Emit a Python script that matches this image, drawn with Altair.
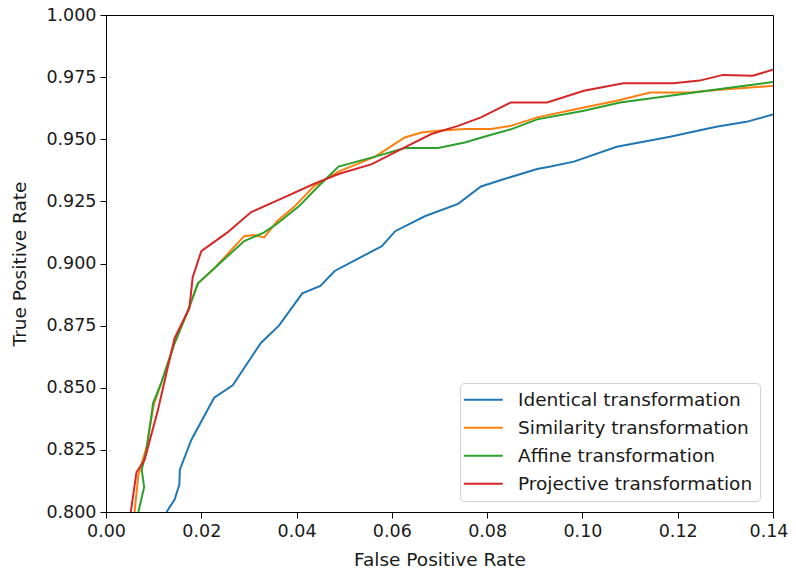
import altair as alt
import pandas as pd

series_names = ["Identical transformation", "Similarity transformation",
                "Affine transformation", "Projective transformation"]
series_colors = ["#1f77b4", "#ff7f0e", "#2ca02c", "#d62728"]

identical_fpr = [0.0127, 0.0144, 0.0154, 0.0155, 0.0179, 0.0227, 0.0266, 0.0325, 0.0363, 0.0412,
                 0.0450, 0.0480, 0.0579, 0.0607, 0.0669, 0.0739, 0.0787, 0.0836, 0.0905, 0.0933,
                 0.0982, 0.1072, 0.1128, 0.1184, 0.1232, 0.1281, 0.1344, 0.1400]
identical_tpr = [0.800, 0.805, 0.811, 0.817, 0.829, 0.846, 0.851, 0.868, 0.875, 0.888,
                 0.891, 0.897, 0.907, 0.913, 0.919, 0.924, 0.931, 0.934, 0.938, 0.939,
                 0.941, 0.947, 0.949, 0.951, 0.953, 0.955, 0.957, 0.960]

similarity_fpr = [0.0060, 0.0068, 0.0085, 0.0100, 0.0116, 0.0144, 0.0172, 0.0193, 0.0227, 0.0290,
                  0.0310, 0.0332, 0.0359, 0.0394, 0.0436, 0.0488, 0.0565, 0.0627, 0.0662, 0.0697,
                  0.0753, 0.0808, 0.0850, 0.0905, 0.1003, 0.1072, 0.1142, 0.1225, 0.1281, 0.1400]
similarity_tpr = [0.800, 0.815, 0.826, 0.843, 0.852, 0.868, 0.881, 0.892, 0.898, 0.911,
                  0.9115, 0.9105, 0.917, 0.9226, 0.931, 0.937, 0.943, 0.9507, 0.9527, 0.9534,
                  0.9541, 0.9541, 0.9554, 0.9588, 0.9628, 0.9655, 0.9688, 0.9688, 0.9698, 0.9715]

affine_fpr = [0.0068, 0.0080, 0.0075, 0.0085, 0.0099, 0.0116, 0.0144, 0.0172, 0.0193, 0.0227,
              0.0290, 0.0332, 0.0359, 0.0405, 0.0440, 0.0488, 0.0565, 0.0627, 0.0697, 0.0753,
              0.0801, 0.0850, 0.0905, 0.1003, 0.1079, 0.1184, 0.1281, 0.1400]
affine_tpr = [0.800, 0.810, 0.817, 0.825, 0.844, 0.852, 0.868, 0.881, 0.892, 0.898,
              0.909, 0.9125, 0.916, 0.923, 0.930, 0.939, 0.943, 0.9465, 0.9465, 0.9487,
              0.9514, 0.954, 0.958, 0.9615, 0.9648, 0.9675, 0.970, 0.973]

projective_fpr = [0.0052, 0.0064, 0.0081, 0.0109, 0.0127, 0.0144, 0.0175, 0.0182, 0.0200, 0.0255,
                  0.0304, 0.0367, 0.0436, 0.0488, 0.0558, 0.0627, 0.0683, 0.0739, 0.0787, 0.0850,
                  0.0926, 0.1003, 0.1086, 0.1191, 0.1246, 0.1295, 0.1358, 0.1400]
projective_tpr = [0.800, 0.816, 0.821, 0.841, 0.856, 0.870, 0.882, 0.8945, 0.905, 0.9125,
                  0.9206, 0.926, 0.932, 0.936, 0.940, 0.9467, 0.9521, 0.9554, 0.9588, 0.9648,
                  0.9648, 0.9695, 0.9725, 0.9725, 0.9736, 0.9759, 0.9756, 0.978]

x_ticks = [0.00, 0.02, 0.04, 0.06, 0.08, 0.10, 0.12, 0.14]
y_ticks = [0.800, 0.825, 0.850, 0.875, 0.900, 0.925, 0.950, 0.975, 1.000]

rows = []
for name, xs, ys in zip(series_names,
                        [identical_fpr, similarity_fpr, affine_fpr, projective_fpr],
                        [identical_tpr, similarity_tpr, affine_tpr, projective_tpr]):
    for i, (xv, yv) in enumerate(zip(xs, ys)):
        rows.append({"series": name, "fpr": xv, "tpr": yv, "idx": i})
df = pd.DataFrame(rows)

FONT = "DejaVu Sans"
TXT = "#1a1a1a"
LAST_X = "datum.value >= 0.139"

chart = alt.Chart(df).mark_line(strokeWidth=2, clip=True).encode(
    x=alt.X("fpr:Q", title="False Positive Rate",
            scale=alt.Scale(domain=[0, 0.14], nice=False, zero=False),
            axis=alt.Axis(values=x_ticks, format=".2f", grid=False, labelFlush=False,
                          labelAlign={"condition": {"test": LAST_X, "value": "right"},
                                      "value": "center"},
                          labelOffset={"condition": {"test": LAST_X, "value": 15},
                                       "value": 0})),
    y=alt.Y("tpr:Q", title="True Positive Rate",
            scale=alt.Scale(domain=[0.8, 1.0], nice=False, zero=False),
            axis=alt.Axis(values=y_ticks, format=".3f", grid=False, labelFlush=False)),
    color=alt.Color("series:N",
                    scale=alt.Scale(domain=series_names, range=series_colors),
                    legend=alt.Legend(title=None, orient="none", legendX=354, legendY=368,
                                      symbolType="M-2.6,0H5.2", symbolSize=100,
                                      symbolStrokeWidth=2, labelFontSize=18.5,
                                      labelFont=FONT, labelColor=TXT, labelLimit=400,
                                      rowPadding=9, padding=7.5,
                                      fillColor="white", strokeColor="#d0d0d0",
                                      cornerRadius=4, labelOffset=32)),
    order="idx:Q",
    detail="series:N",
).properties(
    width=667, height=497,
    autosize=alt.AutoSizeParams(type="none"),
    padding={"left": 98, "top": 7, "right": 15, "bottom": 58},
).configure_view(
    stroke="black", strokeWidth=1
).configure_axis(
    domainColor="black", domainWidth=1, tickColor="black", tickSize=6, tickWidth=1,
    labelFont=FONT, labelFontSize=17.5, labelColor=TXT, labelPadding=4,
    titleFont=FONT, titleFontSize=18.5, titleColor=TXT, titleFontWeight="normal",
).configure_axisX(titlePadding=11).configure_axisY(titlePadding=16)

chart.save("out.html", embed_options={"renderer": "svg", "actions": False})
